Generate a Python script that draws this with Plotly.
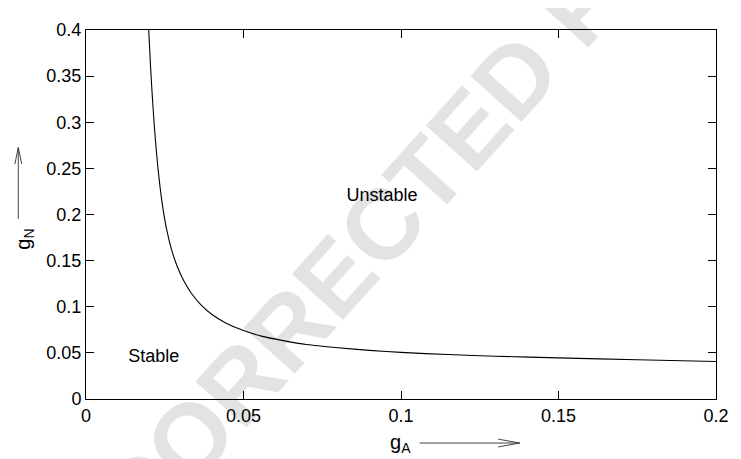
import plotly.graph_objects as go

# Data
g_A = [0.0199, 0.0205, 0.0212, 0.0220, 0.0230, 0.0242, 0.0256, 0.0272, 0.0290,
       0.0310, 0.0335, 0.0365, 0.0400, 0.0445, 0.0500, 0.0560, 0.0630, 0.0700,
       0.0800, 0.0900, 0.1000, 0.1150, 0.1300, 0.1500, 0.1750, 0.2000]
g_N = [0.400, 0.360, 0.320, 0.2824, 0.2454, 0.2118, 0.1838, 0.1614, 0.1434,
       0.1284, 0.1144, 0.1021, 0.0916, 0.0822, 0.0742, 0.0679, 0.0630, 0.0590,
       0.0555, 0.0527, 0.0505, 0.0482, 0.0464, 0.0446, 0.0425, 0.0406]

x_ticks = [0, 0.05, 0.1, 0.15, 0.2]
x_labels = ["0", "0.05", "0.1", "0.15", "0.2"]
y_ticks = [0, 0.05, 0.1, 0.15, 0.2, 0.25, 0.3, 0.35, 0.4]
y_labels = ["0", "0.05", "0.1", "0.15", "0.2", "0.25", "0.3", "0.35", "0.4"]

region_labels = ["Stable", "Unstable"]
region_x = [0.0215, 0.094]
region_y = [0.0455, 0.2195]

FONT = "Liberation Sans, Arial, Helvetica, sans-serif"

fig = go.Figure()
fig.add_trace(go.Scatter(x=g_A, y=g_N, mode="lines",
                         line=dict(color="black", width=1.1, shape="spline", smoothing=0.8),
                         showlegend=False, hoverinfo="skip"))

fig.add_trace(go.Scatter(x=region_x, y=region_y, mode="text", text=region_labels,
                         textfont=dict(family=FONT, size=18, color="black"),
                         showlegend=False, hoverinfo="skip"))

axis_common = dict(showline=True, linecolor="black", linewidth=1, mirror="ticks",
                   ticks="inside", ticklen=8, tickwidth=1, tickcolor="black",
                   showgrid=False, zeroline=False,
                   tickfont=dict(family=FONT, size=18, color="black"))

fig.update_xaxes(range=[0, 0.2], tickvals=x_ticks, ticktext=x_labels, **axis_common)
fig.update_yaxes(range=[0, 0.4], tickvals=y_ticks, ticktext=y_labels, **axis_common)

# page pixel -> paper coordinates (plot area spans x 86..728, y 22..399 in the window)
def px_x(p):
    return (p - 86) / 642.0

def px_y(p):
    return (399 - p) / 377.0

annotations = [
    dict(text="g<sub>A</sub>", x=px_x(406), y=px_y(444), xref="paper", yref="paper",
         showarrow=False, font=dict(family=FONT, size=20, color="black"),
         xanchor="center", yanchor="middle"),
    dict(text="g<sub>N</sub>", x=px_x(23), y=px_y(236), xref="paper", yref="paper",
         showarrow=False, textangle=-90, font=dict(family=FONT, size=20, color="black"),
         xanchor="center", yanchor="middle"),
    dict(text="UNCORRECTED PROOF", x=px_x(414), y=px_y(192), xref="paper", yref="paper",
         showarrow=False, textangle=-48,
         font=dict(family=FONT, size=100, weight="bold", color="rgba(0,0,0,0.11)"),
         xanchor="center", yanchor="middle"),
]

line_style = dict(color="#444444", width=1)
shapes = [
    # x-axis title arrow
    dict(type="line", xref="paper", yref="paper", x0=px_x(426), y0=px_y(444), x1=px_x(528), y1=px_y(444), line=line_style),
    dict(type="line", xref="paper", yref="paper", x0=px_x(506), y0=px_y(440), x1=px_x(528), y1=px_y(444), line=line_style),
    dict(type="line", xref="paper", yref="paper", x0=px_x(506), y0=px_y(448), x1=px_x(528), y1=px_y(444), line=line_style),
    # y-axis title arrow
    dict(type="line", xref="paper", yref="paper", x0=px_x(17), y0=px_y(215), x1=px_x(17), y1=px_y(142), line=line_style),
    dict(type="line", xref="paper", yref="paper", x0=px_x(13.5), y0=px_y(159), x1=px_x(17), y1=px_y(142), line=line_style),
    dict(type="line", xref="paper", yref="paper", x0=px_x(20.5), y0=px_y(159), x1=px_x(17), y1=px_y(142), line=line_style),
]

# The page body has an 8px margin, so the figure is 8px smaller on each axis
fig.update_layout(width=733, height=451,
                  margin=dict(l=78, r=13, t=14, b=60),
                  paper_bgcolor="white", plot_bgcolor="white",
                  annotations=annotations, shapes=shapes,
                  font=dict(family=FONT, color="black"))

fig.write_html("out.html")
